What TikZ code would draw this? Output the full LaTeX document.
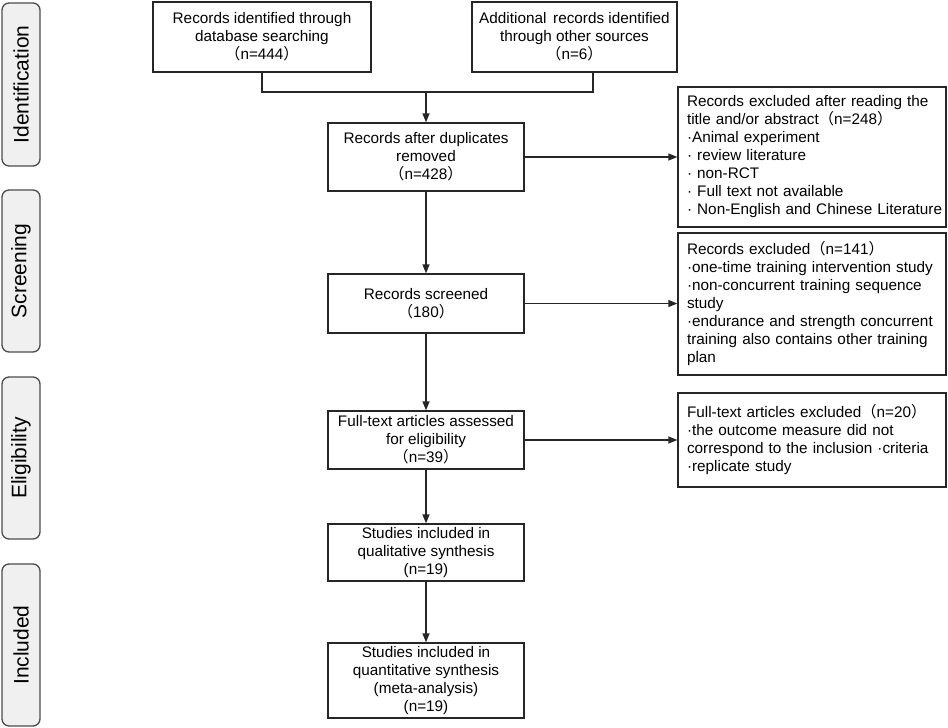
\documentclass[tikz,border=0pt]{standalone}
\usepackage{fontspec}
\setmainfont{Liberation Sans}
\newfontfamily\cjkfont{Noto Sans CJK SC}
\newcommand{\lpar}{{\cjkfont （}}
\newcommand{\rpar}{{\cjkfont ）}}
\usetikzlibrary{arrows.meta}
\begin{document}
\begin{tikzpicture}[x=1pt,y=-1pt,
  every node/.style={font=\fontsize{15.3}{18}\selectfont},
  mainbox/.style={draw=black!85, line width=1.3pt, align=center, minimum width=196pt, inner sep=0pt},
  exbox/.style={draw=black!85, line width=1.3pt, align=left, text width=250pt, inner xsep=9pt, inner ysep=0pt},
  stagebox/.style={draw=black!70, fill=black!6, line width=1.3pt, rounded corners=7pt, minimum height=38pt, rotate=90, inner sep=0pt, font=\fontsize{21}{24}\selectfont},
  conn/.style={draw=black!85, line width=1.3pt},
  arr/.style={conn, -{Triangle[length=9pt,width=7pt]}}]
\useasboundingbox (0,0) rectangle (948,728);

% stage labels
\node[stagebox, minimum width=163pt] (sid) at (21,84.5) {Identification};
\node[stagebox, minimum width=162pt] (sscr) at (21,271) {Screening};
\node[stagebox, minimum width=162pt] (selig) at (21,458) {Eligibility};
\node[stagebox, minimum width=162pt] (sinc) at (21,645) {Included};

% main column
\node[mainbox, minimum width=218pt, minimum height=70pt] (db) at (262,37)
  {Records identified through\\database searching\\\lpar n=444\rpar};
\node[mainbox, minimum width=205pt, minimum height=70pt] (add) at (574.5,37)
  {Additional\, records identified\\through other sources\\\lpar n=6\rpar};
\node[mainbox, minimum height=68pt] (dup) at (426,157)
  {Records after duplicates\\removed\\\lpar n=428\rpar};
\node[mainbox, minimum height=59pt] (scr) at (426,303.5)
  {Records screened\\\lpar 180\rpar};
\node[mainbox, minimum height=58pt] (full) at (426,440)
  {Full-text articles assessed\\for eligibility\\\lpar n=39\rpar};
\node[mainbox, minimum height=57pt] (qual) at (426,552.5)
  {Studies included in\\qualitative synthesis\\(n=19)};
\node[mainbox, minimum height=75pt] (meta) at (426,680.5)
  {Studies included in\\quantitative synthesis\\(meta-analysis)\\(n=19)};

% exclusion boxes
\node[exbox, minimum height=140pt] (ex1) at (812,157)
  {\mbox{Records excluded after reading the}\\\mbox{title and/or abstract\lpar n=248\rpar}\\·Animal experiment\\· review literature\\· non-RCT\\· Full text not available\\\mbox{· Non-English and Chinese Literature}};
\node[exbox, minimum height=142pt] (ex2) at (812,304)
  {\mbox{Records excluded\lpar n=141\rpar}\\\mbox{·one-time training intervention study}\\\mbox{·non-concurrent training sequence}\\study\\\mbox{·endurance and strength concurrent}\\\mbox{training also contains other training}\\plan};
\node[exbox, minimum height=94pt] (ex3) at (812,440)
  {\mbox{Full-text articles excluded\lpar n=20\rpar}\\\mbox{·the outcome measure did not}\\\mbox{correspond to the inclusion ·criteria}\\·replicate study};

% connectors
\coordinate (c1) at (262,92);
\coordinate (c2) at (593,92);
\coordinate (cm) at (426,92);
\draw[conn] (db.south) -- (c1) -- (c2) -- (c2 |- add.south);
\draw[arr] (cm) -- (dup.north);
\draw[arr] (dup.south) -- (scr.north);
\draw[arr] (scr.south) -- (full.north);
\draw[arr] (full.south) -- (qual.north);
\draw[arr] (qual.south) -- (meta.north);
\draw[arr] (dup.east) -- (ex1.west |- dup.east);
\draw[arr] (scr.east) -- (ex2.west |- scr.east);
\draw[arr] (full.east) -- (ex3.west |- full.east);
\end{tikzpicture}
\end{document}
